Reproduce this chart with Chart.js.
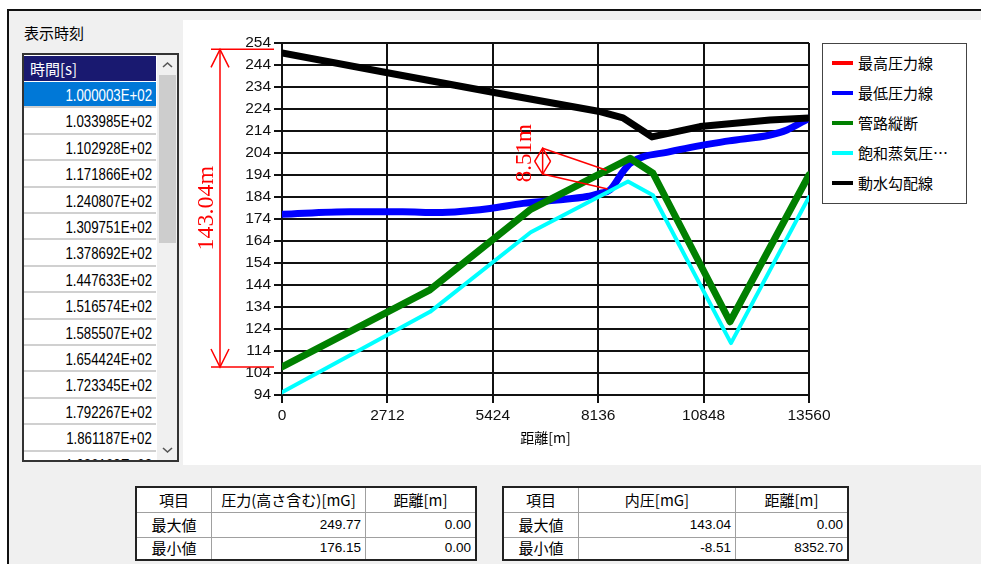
<!DOCTYPE html>
<html lang="ja">
<head>
<meta charset="utf-8">
<title>圧力分布</title>
<script src="https://cdn.jsdelivr.net/npm/chart.js@4.4.0/dist/chart.umd.min.js"></script>
<style>
body { margin:0; width:981px; height:564px; background:#fff; position:relative; overflow:hidden; font-family:'Noto Sans CJK JP', sans-serif; }
.abs { position:absolute; }
#frame { left:7px; top:9px; width:974px; height:555px; background:#f0f0f0; border-top:2px solid #111; border-left:2px solid #111; box-sizing:border-box; }
#lblTime { left:24px; top:22px; font-size:15px; line-height:22px; color:#000; }
#list { left:22px; top:53px; width:157px; height:409px; border:2px solid #333; box-sizing:border-box; background:#fff; overflow:hidden; }
#listHead { left:0; top:1px; width:132px; height:25px; background:#191970; color:#fff; font-size:15px; line-height:25px; padding-left:6px; box-sizing:border-box; }
.row { left:0; width:132px; height:26.4px; border-bottom:2px solid #d0d0d0; box-sizing:border-box; background:#fff; text-align:right; padding-right:4px; }
.row span { display:inline-block; font-family:'Liberation Sans', Arial, sans-serif; font-size:17px; line-height:24px; transform:scaleX(0.78); transform-origin:right center; color:#000; }
.row.sel { background:#0078d7; }
.row.sel span { color:#fff; }
#scroll { left:133px; top:0; width:20px; height:405px; background:#f0f0f0; }
#thumb { left:2px; top:20px; width:17px; height:168px; background:#cdcdcd; }
#chartBox { left:183px; top:20px; width:798px; height:445px; background:#fff; }
#legend { left:822px; top:43px; width:145px; height:161px; border:1px solid #444; box-sizing:border-box; background:#fff; }
.lg { left:0; height:30px; width:140px; }
.lg i { position:absolute; left:9px; top:13px; width:21px; height:4px; }
.lg b { position:absolute; left:35px; top:0; font-weight:normal; font-size:15px; line-height:30px; color:#000; white-space:nowrap; }
.tbl { border:2px solid #222; box-sizing:border-box; background:#fff; }
.cell { box-sizing:border-box; border-right:1px solid #a0a0a0; border-bottom:1px solid #a0a0a0; font-size:15px; color:#000; white-space:nowrap; overflow:hidden; }
.cell.num { font-family:'Liberation Sans', Arial, sans-serif; font-size:13.5px; text-align:right; padding-right:4px; }
.cell.ctr { text-align:center; }
</style>
</head>
<body>
<div id="frame" class="abs"></div>
<div id="lblTime" class="abs">表示時刻</div>
<div id="list" class="abs">
  <div id="listHead" class="abs">時間[s]</div>
  <div id="scroll" class="abs">
    <svg class="abs" style="left:5px;top:6px" width="11" height="8"><polyline points="1,6 5.5,2 10,6" fill="none" stroke="#555" stroke-width="1.6"/></svg>
    <div id="thumb" class="abs"></div>
    <svg class="abs" style="left:5px;top:391px" width="11" height="8"><polyline points="1,2 5.5,6 10,2" fill="none" stroke="#555" stroke-width="1.6"/></svg>
  </div>
</div>
<div id="chartBox" class="abs"><canvas id="myChart"></canvas></div>
<div id="legend" class="abs"></div>
<div id="tables"></div>

<script>
// 表示時刻の一覧
const times = ['1.000003E+02', '1.033985E+02', '1.102928E+02', '1.171866E+02', '1.240807E+02',
  '1.309751E+02', '1.378692E+02', '1.447633E+02', '1.516574E+02', '1.585507E+02',
  '1.654424E+02', '1.723345E+02', '1.792267E+02', '1.861187E+02', '1.930108E+02'];

// 最高圧力線
const maxDist = [0, 2712, 5424, 8136, 8774, 9520, 10755, 12557, 13560];
const maxHead = [249.77, 240.8, 231.9, 223.3, 220.3, 211.7, 216.4, 219.4, 220.1];
// 最低圧力線
const minDist = [0, 1750, 3100, 4000, 4800, 5352, 6201, 7076, 7848, 8182, 8440, 8774, 8954, 9983, 11500, 12557, 12994, 13560];
const minHead = [176.15, 177.3, 177.3, 176.9, 177.8, 178.8, 181.1, 182.6, 184.2, 185.7, 187.2, 195.5, 199.3, 204.6, 209.5, 212.2, 214.5, 219.8];
// 管路縦断
const pipeDist = [0, 3808, 6400, 8954, 9546, 11527, 13560];
const pipeElev = [106.73, 141.8, 178.4, 201.6, 194.8, 127.3, 194.0];
// 飽和蒸気圧線
const vapDist = [0, 3808, 6400, 8903, 9546, 11553, 13560];
const vapHead = [95.2, 131.8, 168.0, 191.0, 184.8, 117.6, 184.0];
// 動水勾配線
const hglDist = [0, 2712, 5424, 8136, 8774, 9520, 10755, 12557, 13560];
const hglHead = [249.5, 240.5, 231.6, 223.0, 220.0, 211.3, 216.0, 219.0, 219.9];

// 内圧の最大・最小
const innerMax = 143.04;
const innerMin = -8.51;
const innerMinDist = 8352.70;

const xMax = 13560, xStep = 2712;
const yMin = 94, yMax = 254, yStep = 10;

// リスト
const list = document.getElementById('list');
times.forEach((t, i) => {
  const r = document.createElement('div');
  r.className = 'abs row' + (i === 0 ? ' sel' : '');
  r.style.top = (27 + i * 26.4) + 'px';
  r.innerHTML = '<span>' + t + '</span>';
  list.insertBefore(r, document.getElementById('scroll'));
});

// 表
function makeTable(left, top, colW, rowH, rows) {
  const t = document.createElement('div');
  t.className = 'abs tbl';
  t.style.left = left + 'px'; t.style.top = top + 'px';
  t.style.width = (colW.reduce((a, b) => a + b, 0) + 4) + 'px';
  t.style.height = (rowH.reduce((a, b) => a + b, 0) + 4) + 'px';
  let yy = 0;
  rows.forEach((row, ri) => {
    let xx = 0;
    row.forEach((txt, ci) => {
      const c = document.createElement('div');
      const num = ri > 0 && ci > 0;
      c.className = 'abs cell ' + (num ? 'num' : 'ctr');
      c.style.left = xx + 'px'; c.style.top = yy + 'px';
      c.style.width = colW[ci] + 'px'; c.style.height = rowH[ri] + 'px';
      c.style.lineHeight = (rowH[ri] - 1) + 'px';
      if (ci === row.length - 1) c.style.borderRight = 'none';
      if (ri === rows.length - 1) c.style.borderBottom = 'none';
      c.textContent = txt;
      t.appendChild(c);
      xx += colW[ci];
    });
    yy += rowH[ri];
  });
  document.getElementById('tables').appendChild(t);
}
makeTable(135, 486, [75, 154, 109], [25, 25, 21], [
  ['項目', '圧力(高さ含む)[mG]', '距離[m]'],
  ['最大値', '249.77', '0.00'],
  ['最小値', '176.15', '0.00']]);
makeTable(502, 486, [75, 157, 111], [25, 25, 21], [
  ['項目', '内圧[mG]', '距離[m]'],
  ['最大値', innerMax.toFixed(2), '0.00'],
  ['最小値', innerMin.toFixed(2), innerMinDist.toFixed(2)]]);

function pts(xs, ys) { return xs.map((v, i) => ({ x: v, y: ys[i] })); }
function interp(xs, ys, v) {
  for (let i = 1; i < xs.length; i++) {
    if (v <= xs[i]) return ys[i - 1] + (ys[i] - ys[i - 1]) * (v - xs[i - 1]) / (xs[i] - xs[i - 1]);
  }
  return ys[ys.length - 1];
}
function seg(ctx, x1, y1, x2, y2) { ctx.beginPath(); ctx.moveTo(x1, y1); ctx.lineTo(x2, y2); ctx.stroke(); }
function arrowHead(ctx, x, y, w, h) { ctx.beginPath(); ctx.moveTo(x - w, y + h); ctx.lineTo(x, y); ctx.lineTo(x + w, y + h); ctx.stroke(); }
function vText(ctx, txt, x, y) {
  ctx.save(); ctx.translate(x, y); ctx.rotate(-Math.PI / 2);
  ctx.textAlign = 'center'; ctx.textBaseline = 'middle';
  ctx.fillText(txt, 0, 0); ctx.restore();
}

// 寸法線
const dimPlugin = {
  id: 'dims',
  afterDatasetsDraw(chart) {
    const { ctx, chartArea, scales: { x, y } } = chart;
    ctx.save();
    ctx.strokeStyle = '#ff0000'; ctx.fillStyle = '#ff0000'; ctx.lineWidth = 1.5;
    ctx.font = '24px "Liberation Serif", serif';
    // 最大内圧
    const ax = chartArea.left - 62;
    const top = y.getPixelForValue(maxHead[0]) - 3;
    const bot = y.getPixelForValue(maxHead[0] - innerMax);
    seg(ctx, ax - 9, top, chartArea.left - 8, top);
    seg(ctx, ax - 9, bot, chartArea.left - 8, bot);
    seg(ctx, ax, top, ax, bot);
    arrowHead(ctx, ax, top, 9, 18);
    arrowHead(ctx, ax, bot, 9, -18);
    vText(ctx, innerMax.toFixed(2) + 'm', chartArea.left - 75, (top + bot) / 2);
    // 最小内圧
    const px = x.getPixelForValue(innerMinDist);
    const pipeAt = interp(pipeDist, pipeElev, innerMinDist);
    const gTop = y.getPixelForValue(pipeAt);
    const gBot = y.getPixelForValue(pipeAt + innerMin);
    const lx = px - 64, lt = gTop - 22, lb = gBot - 15;
    seg(ctx, px, gTop, lx, lt);
    seg(ctx, px + 1, gBot, lx, lb);
    seg(ctx, lx, lt, lx, lb);
    arrowHead(ctx, lx, lt, 8, 13);
    arrowHead(ctx, lx, lb, 8, -13);
    ctx.font = '23px "Liberation Serif", serif';
    vText(ctx, Math.abs(innerMin).toFixed(2) + 'm', px - 82, (lt + lb) / 2 - 8);
    ctx.restore();
  }
};

const tickFont = { family: '"Liberation Sans", Arial, sans-serif', size: 15.5 };

const ctx = document.getElementById('myChart').getContext('2d');
const myChart = new Chart(ctx, {
  type: 'line',
  data: {
    datasets: [
      { label: '最高圧力線', data: pts(maxDist, maxHead), borderColor: '#ff0000', borderWidth: 3, order: 5 },
      { label: '最低圧力線', data: pts(minDist, minHead), borderColor: '#0000ff', borderWidth: 7, order: 4, cubicInterpolationMode: 'monotone' },
      { label: '管路縦断', data: pts(pipeDist, pipeElev), borderColor: '#008000', borderWidth: 7, order: 3 },
      { label: '飽和蒸気圧…', data: pts(vapDist, vapHead), borderColor: '#00ffff', borderWidth: 4, order: 2 },
      { label: '動水勾配線', data: pts(hglDist, hglHead), borderColor: '#000000', borderWidth: 7, order: 1 }
    ]
  },
  options: {
    responsive: true,
    maintainAspectRatio: false,
    animation: false,
    devicePixelRatio: 1,
    elements: {
      point: { radius: 0 },
      line: { borderCapStyle: 'round', borderJoinStyle: 'round', fill: false }
    },
    layout: { padding: { left: 0, top: 23, right: 172, bottom: 0 } },
    plugins: { legend: { display: false }, tooltip: { enabled: false } },
    scales: {
      x: {
        type: 'linear', min: 0, max: xMax,
        afterFit: s => { s.height = 70; },
        ticks: { stepSize: xStep, autoSkip: false, maxRotation: 0, color: '#111', font: tickFont, padding: 3, callback: v => String(v) },
        grid: { color: '#111', lineWidth: 2, tickLength: 8, tickColor: '#111' },
        border: { color: '#111', width: 2 },
        title: { display: true, text: '距離[m]', color: '#000', font: { family: '"Noto Sans CJK JP", sans-serif', size: 14 }, padding: { top: 0, bottom: 19 } }
      },
      y: {
        min: yMin, max: yMax,
        afterFit: s => { s.width = 99; },
        ticks: { stepSize: yStep, autoSkip: false, color: '#111', font: tickFont, padding: 3, callback: v => String(v) },
        grid: { color: '#111', lineWidth: 2, tickLength: 8, tickColor: '#111' },
        border: { color: '#111', width: 2 }
      }
    }
  },
  plugins: [dimPlugin]
});

// 凡例
const legend = document.getElementById('legend');
myChart.data.datasets.forEach((d, i) => {
  const item = document.createElement('div');
  item.className = 'abs lg';
  item.style.top = (4 + i * 30) + 'px';
  item.innerHTML = '<i style="background:' + d.borderColor + '"></i><b>' + d.label + '</b>';
  legend.appendChild(item);
});
</script>
</body>
</html>
